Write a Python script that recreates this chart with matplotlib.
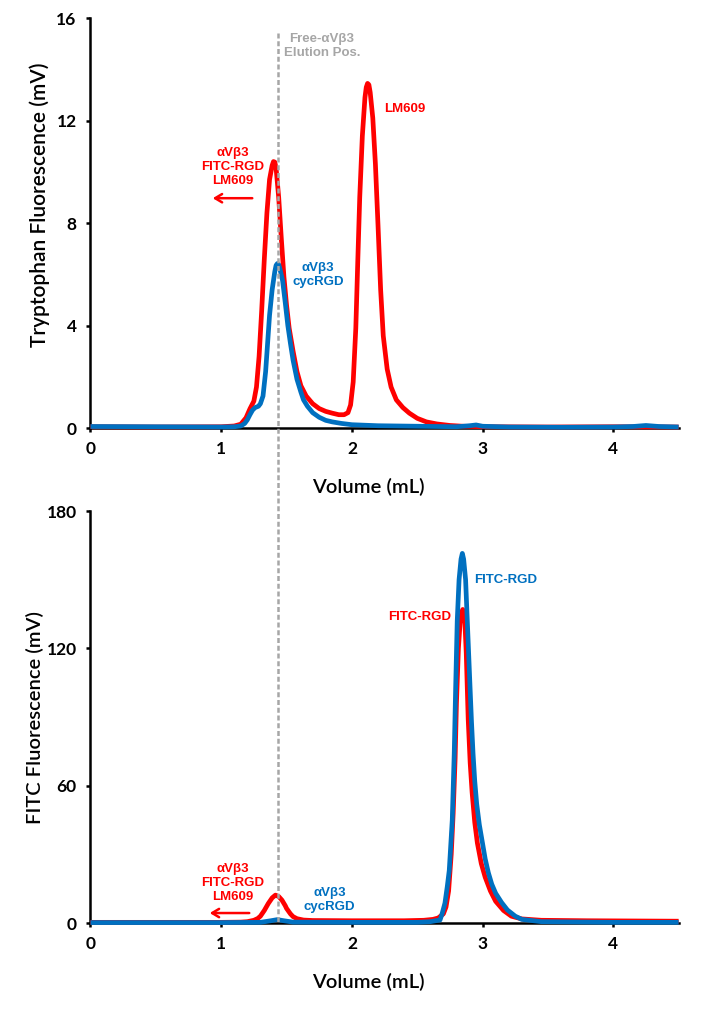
import matplotlib
matplotlib.use('Agg')
import matplotlib.pyplot as plt
from matplotlib.lines import Line2D

RED = '#FF0000'
BLUE = '#0070C0'
GRAY = '#A6A6A6'

# tryptophan trace, LM609 sample (red)
trp_red_x = [0.00, 0.50, 1.00, 1.10, 1.15, 1.19, 1.22, 1.25, 1.27, 1.29, 1.31, 1.33, 1.35, 1.37, 1.39, 1.40,
             1.41, 1.42, 1.44, 1.46, 1.48, 1.50, 1.52, 1.55, 1.58, 1.61, 1.65, 1.70, 1.75, 1.80, 1.85, 1.90,
             1.94, 1.97, 1.99, 2.01, 2.03, 2.045, 2.06, 2.08, 2.10, 2.11, 2.12, 2.13, 2.14, 2.16, 2.18, 2.20,
             2.22, 2.24, 2.27, 2.30, 2.34, 2.39, 2.44, 2.50, 2.57, 2.65, 2.75, 2.85, 3.00, 3.50, 4.00, 4.50]
trp_red_y = [0.05, 0.04, 0.05, 0.08, 0.15, 0.40, 0.75, 1.05, 1.6, 2.8, 4.6, 6.6, 8.4, 9.7, 10.25, 10.4,
             10.38, 10.15, 9.0, 7.4, 5.9, 4.8, 3.9, 3.0, 2.2, 1.65, 1.25, 0.95, 0.76, 0.65, 0.58, 0.52,
             0.52, 0.60, 0.90, 1.8, 3.9, 6.5, 9.0, 11.4, 12.9, 13.3, 13.45, 13.4, 13.1, 12.1, 10.3, 7.9,
             5.4, 3.6, 2.3, 1.6, 1.1, 0.8, 0.58, 0.38, 0.24, 0.16, 0.10, 0.07, 0.05, 0.04, 0.05, 0.04]

# tryptophan trace, cycRGD sample (blue)
trp_blue_x = [0.00, 0.50, 1.00, 1.10, 1.15, 1.18, 1.20, 1.22, 1.24, 1.26, 1.285, 1.30, 1.32, 1.34, 1.355,
              1.37, 1.39, 1.41, 1.42, 1.43, 1.44, 1.45, 1.47, 1.49, 1.51, 1.53, 1.55, 1.58, 1.61, 1.63,
              1.66, 1.70, 1.75, 1.80, 1.85, 1.92, 2.00, 2.20, 2.50, 2.80, 2.90, 2.95, 3.00, 3.20, 3.60,
              4.00, 4.15, 4.25, 4.35, 4.50]
trp_blue_y = [0.06, 0.05, 0.04, 0.05, 0.08, 0.18, 0.32, 0.52, 0.70, 0.80, 0.85, 0.95, 1.25, 2.2, 3.3,
              4.4, 5.4, 6.1, 6.35, 6.42, 6.38, 6.2, 5.75, 4.9, 4.0, 3.3, 2.65, 1.9, 1.4, 1.1,
              0.85, 0.6, 0.42, 0.30, 0.24, 0.18, 0.13, 0.09, 0.07, 0.05, 0.09, 0.12, 0.07, 0.04, 0.03,
              0.04, 0.06, 0.10, 0.06, 0.04]

# FITC trace, LM609 sample (red)
fitc_red_x = [0.00, 1.00, 1.15, 1.20, 1.25, 1.28, 1.30, 1.33, 1.36, 1.39, 1.415, 1.44, 1.465, 1.49, 1.50,
              1.53, 1.55, 1.58, 1.63, 1.70, 2.00, 2.40, 2.55, 2.62, 2.66, 2.70, 2.72, 2.74, 2.76, 2.775,
              2.79, 2.80, 2.815, 2.83, 2.848, 2.865, 2.875, 2.89, 2.905, 2.92, 2.94, 2.96, 2.99, 3.02,
              3.06, 3.10, 3.16, 3.22, 3.30, 3.45, 3.80, 4.50]
fitc_red_y = [0.3, 0.3, 0.4, 0.6, 1.2, 2.0, 3.0, 5.5, 8.5, 11.0, 12.2, 11.6, 10.0, 7.6, 6.4,
              4.0, 2.8, 1.9, 1.3, 1.1, 1.0, 1.0, 1.2, 1.6, 2.2, 4.0, 7.0, 14.0, 30.0, 48.0,
              72.0, 96.0, 120.0, 133.0, 137.0, 131.0, 118.0, 89.0, 70.0, 57.0, 44.0, 35.0, 26.0, 20.0,
              14.0, 9.5, 5.5, 3.0, 1.8, 1.2, 1.0, 0.8]

# FITC trace, cycRGD sample (blue)
fitc_blue_x = [0.00, 1.00, 1.30, 1.38, 1.43, 1.48, 1.55, 2.00, 2.50, 2.60, 2.64, 2.674, 2.69, 2.712, 2.73,
               2.745, 2.768, 2.783, 2.794, 2.806, 2.82, 2.835, 2.845, 2.855, 2.87, 2.883, 2.904, 2.915,
               2.927, 2.94, 2.955, 2.975, 2.993, 3.02, 3.044, 3.07, 3.10, 3.145, 3.19, 3.25, 3.30, 3.45,
               4.00, 4.50]
fitc_blue_y = [0.2, 0.2, 0.3, 1.0, 1.5, 1.0, 0.4, 0.3, 0.3, 0.6, 1.0, 1.3, 4.0, 8.7, 16.0,
               23.0, 45.0, 74.0, 103.0, 132.0, 150.0, 159.0, 161.5, 159.0, 150.0, 132.0, 103.0, 88.0,
               74.0, 62.0, 52.0, 43.0, 37.0, 28.0, 22.0, 17.0, 13.0, 9.0, 5.7, 3.0, 1.6, 0.6,
               0.3, 0.3]

free_pos = 1.432

plt.rcParams['font.family'] = ['Lato', 'DejaVu Sans']

fig = plt.figure(figsize=(7.17, 10.10), dpi=100)
ax1 = fig.add_axes([0.1262, 0.5762, 0.8203, 0.4059])
ax2 = fig.add_axes([0.1262, 0.0861, 0.8203, 0.4079])

for ax in (ax1, ax2):
    ax.spines['top'].set_visible(False)
    ax.spines['right'].set_visible(False)
    for s in ('left', 'bottom'):
        ax.spines[s].set_linewidth(1.8)
    ax.set_xlim(0, 4.5)
    ax.set_xticks([0, 1, 2, 3, 4])
    ax.tick_params(direction='out', length=3, width=1.8, labelsize=12.5)
    ax.tick_params(axis='y', pad=7)
    ax.tick_params(axis='x', pad=6)
    for lab in ax.get_xticklabels() + ax.get_yticklabels():
        lab.set_fontweight('bold')
    ax.set_xlabel('Volume (mL)', fontsize=14.5, fontweight='semibold')
    ax.xaxis.set_label_coords(0.472, -0.122)

ax1.set_ylim(0, 16)
ax1.set_yticks([0, 4, 8, 12, 16])
ax2.set_ylim(0, 180)
ax2.set_yticks([0, 60, 120, 180])

ax1.plot(trp_red_x, trp_red_y, color=RED, lw=3.4, zorder=3, clip_on=False, solid_capstyle='butt')
ax1.plot(trp_blue_x, trp_blue_y, color=BLUE, lw=3.4, zorder=4, clip_on=False, solid_capstyle='butt')
ax2.plot(fitc_red_x, fitc_red_y, color=RED, lw=3.4, zorder=3, clip_on=False, solid_capstyle='butt')
ax2.plot(fitc_blue_x, fitc_blue_y, color=BLUE, lw=3.4, zorder=4, clip_on=False, solid_capstyle='butt')

ax1.set_ylabel('Tryptophan Fluorescence (mV)', fontsize=15, fontweight='semibold', va='center')
ax1.yaxis.set_label_coords(-0.086, 0.545)
ax2.set_ylabel('FITC Fluorescence (mV)', fontsize=14.5, fontweight='semibold', va='center')
ax2.yaxis.set_label_coords(-0.094, 0.50)

lab = dict(fontsize=9.5, fontweight='bold', family=['Liberation Sans', 'DejaVu Sans'],
           ha='center', va='center', linespacing=1.2)
ax1.text(1.771, 14.91, 'Free-αVβ3\nElution Pos.', color=GRAY, **lab)
ax1.text(1.09, 10.18, 'αVβ3\nFITC-RGD\nLM609', color=RED, **lab)
ax1.text(1.74, 5.96, 'αVβ3\ncycRGD', color=BLUE, **lab)
ax1.text(2.245, 12.45, 'LM609', color=RED, **{**lab, 'ha': 'left'})
ax1.annotate('', xy=(0.914, 8.97), xytext=(1.259, 8.97),
             arrowprops=dict(arrowstyle='->,head_length=0.5,head_width=0.3', color=RED, lw=1.8))

ax2.text(2.934, 149.9, 'FITC-RGD', color=BLUE, **{**lab, 'ha': 'left'})
ax2.text(2.52, 133.7, 'FITC-RGD', color=RED, **lab)
ax2.text(1.09, 17.5, 'αVβ3\nFITC-RGD\nLM609', color=RED, **lab)
ax2.text(1.83, 10.0, 'αVβ3\ncycRGD', color=BLUE, **lab)
ax2.annotate('', xy=(0.891, 4.37), xytext=(1.236, 4.37),
             arrowprops=dict(arrowstyle='->,head_length=0.5,head_width=0.3', color=RED, lw=1.8))

# dashed marker runs through both panels
inv = fig.transFigure.inverted()
x0, y0 = inv.transform(ax1.transData.transform((free_pos, 15.41)))
x1, y1 = inv.transform(ax2.transData.transform((free_pos, 0)))
fig.add_artist(Line2D([x0, x1], [y0, y1], transform=fig.transFigure, color=GRAY,
                      lw=1.8, dashes=(2, 1.1), zorder=10))

fig.savefig('out.png', dpi=100)
